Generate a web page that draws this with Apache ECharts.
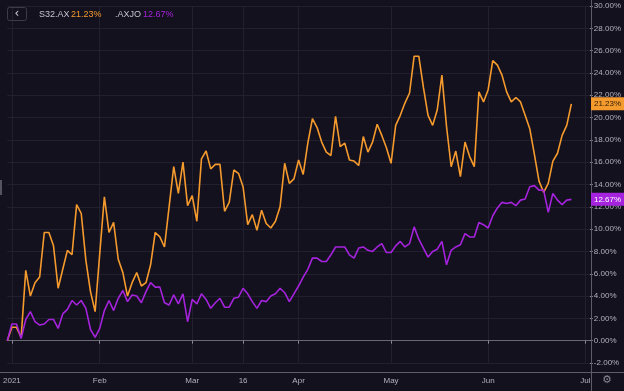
<!DOCTYPE html>
<html><head><meta charset="utf-8">
<script src="https://cdn.jsdelivr.net/npm/echarts@6/dist/echarts.min.js"></script>
<style>html,body{margin:0;padding:0;background:#14111f}#c{width:624px;height:391px}</style>
</head><body><div id="c"></div>
<script>
const seriesNames = ['S32.AX', '.AXJO'];
const s32 = [0, 1.2, 1.2, 0.3, 6.3, 4.0, 5.2, 5.7, 9.7, 9.7,
 8.5, 4.7, 6.4, 8.1, 7.7, 12.2, 11.4, 7.2, 4.4, 2.6,
 7.8, 12.9, 9.7, 10.6, 7.3, 6.1, 4.0, 5.2, 6.1, 4.9,
 5.2, 6.8, 9.7, 9.3, 8.4, 12.0, 15.6, 13.2, 16.0, 12.1,
 13.0, 10.7, 16.3, 17.0, 15.4, 15.8, 15.8, 11.6, 12.4, 15.3,
 15.0, 13.8, 10.4, 11.3, 9.9, 11.7, 10.5, 10.1, 10.7, 12.0,
 15.9, 14.1, 14.5, 16.2, 14.9, 17.7, 19.9, 19.1, 17.8, 16.9,
 16.6, 20.1, 17.4, 17.7, 16.2, 16.1, 15.7, 18.3, 16.9, 17.8,
 19.4, 18.4, 17.3, 15.9, 19.3, 20.2, 21.3, 22.2, 25.5, 25.5,
 22.7, 20.2, 19.3, 20.7, 23.8, 19.2, 15.6, 17.0, 14.7, 17.8,
 16.5, 15.6, 22.3, 21.4, 22.5, 25.1, 24.7, 23.8, 22.3, 21.4,
 21.8, 21.4, 20.2, 19.0, 16.7, 14.3, 13.3, 14.1, 16.1, 16.8,
 18.4, 19.3, 21.23];
const axjo = [0, 1.5, 1.5, 0.2, 1.9, 2.6, 1.7, 1.4, 1.5, 1.9,
 1.9, 1.1, 2.4, 2.8, 3.6, 3.2, 3.6, 2.9, 1.0, 0.3,
 1.1, 2.7, 3.6, 2.7, 3.8, 4.5, 3.5, 4.1, 4.0, 3.4,
 4.4, 5.2, 4.8, 4.8, 3.4, 3.2, 4.1, 3.3, 4.2, 1.7,
 3.7, 3.3, 4.2, 3.7, 2.9, 3.4, 3.8, 3.0, 3.0, 3.8,
 3.9, 4.7, 4.2, 3.5, 2.9, 3.6, 3.5, 4.0, 4.2, 4.7,
 4.3, 3.5, 4.2, 4.9, 5.7, 6.4, 7.4, 7.4, 7.1, 7.1,
 7.7, 8.4, 8.4, 8.4, 7.7, 7.4, 8.3, 8.4, 8.1, 8.0,
 8.4, 8.7, 7.9, 7.9, 8.5, 8.9, 8.4, 8.7, 10.2, 9.1,
 8.3, 7.5, 8.0, 8.2, 8.9, 6.8, 8.1, 8.4, 8.6, 9.6,
 9.3, 9.3, 10.6, 10.4, 10.1, 11.2, 11.9, 12.4, 12.3, 12.4,
 12.1, 12.6, 12.7, 13.8, 13.9, 13.5, 13.5, 11.5, 13.2, 12.6,
 12.2, 12.6, 12.67];
const xTickIdx = [1, 20, 40, 51, 63, 83, 104, 125];
const xTickText = ['2021', 'Feb', 'Mar', '16', 'Apr', 'May', 'Jun', 'Jul'];
const categoryCount = 127;
const yMin = -2, yMax = 30, yStep = 2;

const colors = ['#f59a2c', '#a523dc'];
const bg = '#14111f';
const grid = '#221f2e';
const txt = '#b3b1bb';
const font = 'Liberation Sans';

const categories = Array.from({length: categoryCount}, (_, i) => String(i));
const isTick = (i) => xTickIdx.indexOf(i) >= 0;
const yVals = [];
for (let v = yMin; v <= yMax; v += yStep) yVals.push(v);
const yGridColors = yVals.map(v => v === 0 ? '#45434f' : grid);

const chart = echarts.init(document.getElementById('c'), null, {renderer: 'canvas'});
const fmt = v => v.toFixed(2) + '%';

chart.setOption({
  backgroundColor: bg,
  animation: false,
  textStyle: {fontFamily: font},
  grid: {left: 3, right: 33, top: 6, bottom: 28, containLabel: false},
  xAxis: {
    type: 'category', data: categories, boundaryGap: false, offset: 9,
    axisLine: {show: true, lineStyle: {color: '#6a6874', width: 1}},
    axisTick: {show: true, length: 3, interval: (i) => isTick(i), lineStyle: {color: '#8a8894'}},
    axisLabel: {interval: (i) => isTick(i), formatter: (v, i) => xTickText[xTickIdx.indexOf(Number(v))] || '',
      color: txt, fontSize: 8, margin: 5, fontFamily: font, alignMinLabel: 'center'},
    splitLine: {show: true, interval: (i) => isTick(i), lineStyle: {color: grid, width: 1}}
  },
  yAxis: {
    type: 'value', position: 'right', min: yMin, max: yMax, interval: yStep,
    axisLine: {show: false},
    axisTick: {show: true, length: 3, lineStyle: {color: '#8a8894'}},
    axisLabel: {formatter: fmt, color: txt, fontSize: 8, margin: 4, fontFamily: font},
    splitLine: {show: true, lineStyle: {color: yGridColors, width: 1}}
  },
  series: [
    {name: seriesNames[0], type: 'line', data: s32, symbol: 'none', z: 3,
     lineStyle: {color: colors[0], width: 1.6}},
    {name: seriesNames[1], type: 'line', data: axjo, symbol: 'none', z: 4,
     lineStyle: {color: colors[1], width: 1.6}}
  ]
});

const lastS = s32[s32.length - 1], lastA = axjo[axjo.length - 1];
const yS = chart.convertToPixel({yAxisIndex: 0}, lastS);
const yA = chart.convertToPixel({yAxisIndex: 0}, lastA);

chart.setOption({
  graphic: [
    {type: 'line', shape: {x1: 591.5, y1: 0, x2: 591.5, y2: 391}, style: {stroke: '#5e5c68', lineWidth: 1}, z: 10},
    {type: 'line', shape: {x1: 0, y1: 372.5, x2: 624, y2: 372.5}, style: {stroke: '#5e5c68', lineWidth: 1}, z: 10},
    {type: 'rect', shape: {x: 0, y: 180, width: 2, height: 15}, style: {fill: '#55535f'}, z: 10},
    {type: 'rect', shape: {x: 7.5, y: 7.5, width: 19, height: 13, r: 2}, style: {fill: 'none', stroke: '#3d3b48', lineWidth: 1}, z: 10},
    {type: 'text', x: 17, y: 14, style: {text: '‹', fill: '#d0ced6', fontSize: 12, fontFamily: 'DejaVu Sans', align: 'center', verticalAlign: 'middle'}, z: 11},
    {type: 'text', x: 39, y: 15, style: {text: seriesNames[0], fill: '#c6c4cd', fontSize: 9, fontFamily: font, verticalAlign: 'middle'}, z: 11},
    {type: 'text', x: 71, y: 15, style: {text: fmt(lastS), fill: colors[0], fontSize: 9, fontFamily: font, verticalAlign: 'middle'}, z: 11},
    {type: 'text', x: 115, y: 15, style: {text: seriesNames[1], fill: '#c6c4cd', fontSize: 9, fontFamily: font, verticalAlign: 'middle'}, z: 11},
    {type: 'text', x: 143, y: 15, style: {text: fmt(lastA), fill: colors[1], fontSize: 9, fontFamily: font, verticalAlign: 'middle'}, z: 11},
    {type: 'rect', shape: {x: 591, y: yS - 6.5, width: 33, height: 13}, style: {fill: colors[0]}, z: 12},
    {type: 'text', x: 607.5, y: yS, style: {text: fmt(lastS), fill: '#2a1c08', fontSize: 8, fontFamily: font, align: 'center', verticalAlign: 'middle'}, z: 13},
    {type: 'rect', shape: {x: 591, y: yA - 6.5, width: 33, height: 13}, style: {fill: colors[1]}, z: 12},
    {type: 'text', x: 607.5, y: yA, style: {text: fmt(lastA), fill: '#ffffff', fontSize: 8, fontFamily: font, align: 'center', verticalAlign: 'middle'}, z: 13},
    {type: 'text', x: 607, y: 380, style: {text: '⚙', fill: '#8a8894', fontSize: 11, fontFamily: 'DejaVu Sans', align: 'center', verticalAlign: 'middle'}, z: 11}
  ]
});
</script></body></html>
